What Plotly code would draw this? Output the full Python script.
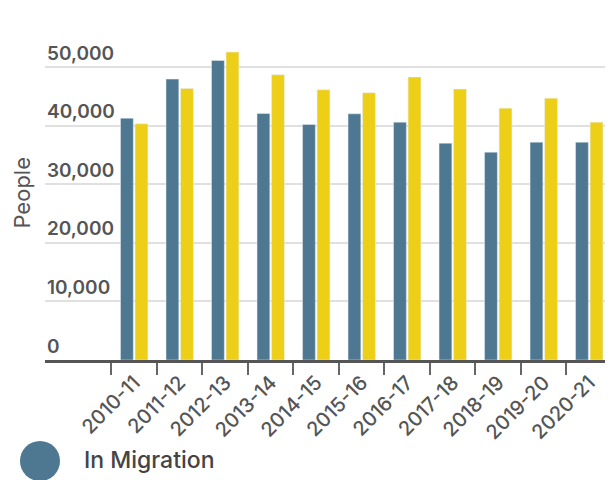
import plotly.graph_objects as go

years = ["2010-11", "2011-12", "2012-13", "2013-14", "2014-15", "2015-16",
         "2016-17", "2017-18", "2018-19", "2019-20", "2020-21"]
in_migration = [41300, 47980, 51160, 42100, 40230, 42050,
                40630, 37040, 35500, 37210, 37210]
out_migration = [40340, 46380, 52590, 48720, 46150, 45640,
                 48320, 46270, 43020, 44730, 40630]
y_ticks = [0, 10000, 20000, 30000, 40000, 50000]

BLUE = "#4e7791"
YELLOW = "#eecf17"
FONT = "Inter"

fig = go.Figure()
fig.add_trace(go.Bar(x=years, y=in_migration, name="In Migration",
                     marker=dict(color=BLUE), showlegend=False))
fig.add_trace(go.Bar(x=years, y=out_migration, name="Out Migration",
                     marker=dict(color=YELLOW), showlegend=False))

# the page body adds an 8px offset, so margins are pulled in by 8px
fig.update_layout(
    width=613, height=480,
    margin=dict(l=37, r=9, t=30, b=128),
    paper_bgcolor="white", plot_bgcolor="white",
    barmode="group", bargap=0.36, bargroupgap=0.12,
    font=dict(family=FONT, color="#555"),
)
fig.update_xaxes(
    type="category", range=[-1.96, 10.5], automargin=False,
    showline=True, linecolor="#555", linewidth=3,
    ticks="outside", tickson="boundaries", ticklen=12, tickwidth=2, tickcolor="#666",
    tickangle=-45, tickfont=dict(size=20, color="#555", weight=500),
    showgrid=False,
)
fig.update_yaxes(
    range=[0, 55000], tickvals=y_ticks, showticklabels=False, automargin=False,
    showgrid=True, gridcolor="#e0e0e0", gridwidth=1.5,
    zeroline=False, showline=False,
)

# y tick labels sit above their gridlines
for v in y_ticks:
    fig.add_annotation(text=f"{v:,}", xref="paper", yref="y", x=0, y=v,
                       xanchor="left", yanchor="middle", yshift=14, showarrow=False,
                       font=dict(size=19, color="#555", family=FONT, weight=600))

# axis title
fig.add_annotation(text="People", xref="paper", yref="paper", x=0, y=0.52,
                   xshift=-23, xanchor="center", yanchor="middle", textangle=-90,
                   showarrow=False, font=dict(size=22, color="#555", family=FONT))

# legend (only the first entry is visible in the frame)
fig.add_shape(type="circle", xref="paper", yref="paper",
              xsizemode="pixel", ysizemode="pixel", xanchor=0, yanchor=0,
              x0=-25, x1=15, y0=-121, y1=-81,
              fillcolor=BLUE, line=dict(width=0))
fig.add_annotation(text="In Migration", xref="paper", yref="paper", x=0, y=0,
                   xshift=37, yshift=-100, xanchor="left", yanchor="middle",
                   showarrow=False, font=dict(size=23, color="#444", family=FONT, weight=500))

fig.write_html("out.html")
